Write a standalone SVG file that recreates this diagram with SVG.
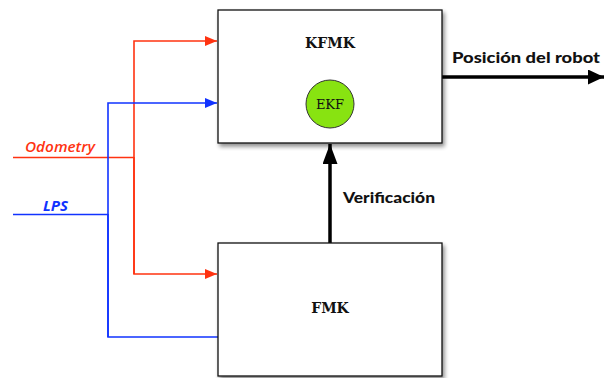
<svg xmlns="http://www.w3.org/2000/svg" width="605" height="378" viewBox="0 0 605 378">
<style>
.box{fill:#fff;stroke:#111;stroke-width:1.3;filter:url(#sh)}
.title{font-family:"DejaVu Serif",serif;font-weight:bold;font-size:14px;fill:#111;text-anchor:middle}
.lbl{font-family:"Lato","Open Sans","Liberation Sans",sans-serif;font-weight:900;font-size:15px;fill:#111}
.red{stroke:#ff3311;stroke-width:1.6;fill:none}
.blue{stroke:#1133ff;stroke-width:1.6;fill:none}
.blk{stroke:#000;stroke-width:3.5;fill:none}
</style>
<defs>
<filter id="sh" x="-10%" y="-10%" width="125%" height="125%">
<feGaussianBlur in="SourceAlpha" stdDeviation="2"/>
<feOffset dx="2" dy="3"/>
<feComponentTransfer><feFuncA type="linear" slope="0.45"/></feComponentTransfer>
<feMerge><feMergeNode/><feMergeNode in="SourceGraphic"/></feMerge>
</filter>
<marker id="ar" markerWidth="12" markerHeight="10" refX="12" refY="5" orient="auto" markerUnits="userSpaceOnUse"><path d="M0,0 L12,5 L0,10 Z" fill="#ff3311"/></marker>
<marker id="ab" markerWidth="12" markerHeight="10" refX="12" refY="5" orient="auto" markerUnits="userSpaceOnUse"><path d="M0,0 L12,5 L0,10 Z" fill="#1133ff"/></marker>
<marker id="ak" markerWidth="20" markerHeight="15" refX="20" refY="7.5" orient="auto" markerUnits="userSpaceOnUse"><path d="M0,0 L20,7.5 L0,15 Z" fill="#000"/></marker>
<marker id="ak2" markerWidth="16" markerHeight="15" refX="16" refY="7.5" orient="auto" markerUnits="userSpaceOnUse"><path d="M0,0 L16,7.5 L0,15 Z" fill="#000"/></marker>
</defs>
<g id="connectors">
<path class="red" d="M13,157.5 H134"/>
<path class="red" d="M134,274 V41 H217" marker-end="url(#ar)"/>
<path class="red" d="M134,157 V274 H217" marker-end="url(#ar)"/>
<path class="blue" d="M13,214.5 H108"/>
<path class="blue" d="M108,337 V103 H217" marker-end="url(#ab)"/>
<path class="blue" d="M108,214 V337 H218"/>
<path class="blk" d="M442,77 H604" marker-end="url(#ak2)"/>
<path class="blk" d="M330,243 V144" marker-end="url(#ak)"/>
<text x="25" y="152" font-family="'Open Sans','Liberation Sans',sans-serif" font-style="italic" font-weight="600" font-size="14" fill="#ff3311" textLength="70" lengthAdjust="spacingAndGlyphs">Odometry</text>
<text x="43" y="211" font-family="'Open Sans','Liberation Sans',sans-serif" font-style="italic" font-weight="bold" font-size="14" fill="#1133ff" textLength="25" lengthAdjust="spacingAndGlyphs">LPS</text>
<text class="lbl" x="452" y="63" textLength="148" lengthAdjust="spacingAndGlyphs">Posición del robot</text>
<text class="lbl" x="343" y="203" textLength="92" lengthAdjust="spacingAndGlyphs">Verificación</text>
</g>
<g id="kfmk">
<rect class="box" x="218" y="10" width="224" height="133"/>
<text class="title" x="330" y="48">KFMK</text>
</g>
<g id="ekf">
<circle cx="330" cy="104" r="24" fill="#88e311" stroke="#333" stroke-width="1"/>
<text x="330" y="109" font-family="'DejaVu Serif',serif" font-size="13" fill="#111" text-anchor="middle">EKF</text>
</g>
<g id="fmk">
<rect class="box" x="218" y="243" width="224" height="133"/>
<text class="title" x="330" y="313">FMK</text>
</g>
</svg>
